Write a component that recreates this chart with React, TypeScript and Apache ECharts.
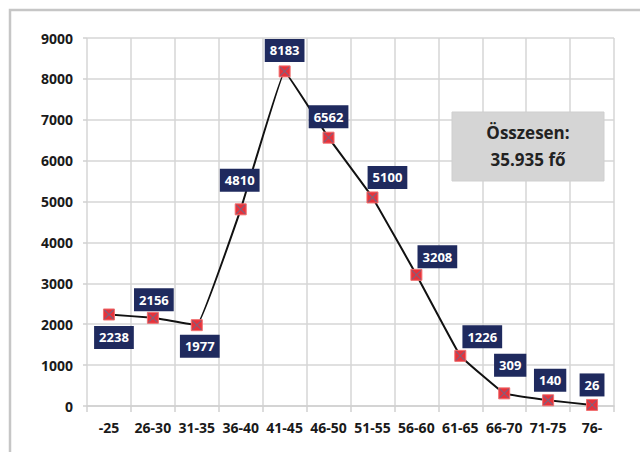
import React, { useEffect, useRef } from "react";
import * as echarts from "echarts";

const categories = ["-25", "26-30", "31-35", "36-40", "41-45", "46-50", "51-55", "56-60", "61-65", "66-70", "71-75", "76-"];
const values = [2238, 2156, 1977, 4810, 8183, 6562, 5100, 3208, 1226, 309, 140, 26];
const labelOffsets: [number, number][] = [
  [5, 23], [1, -18], [3, 21], [-1, -29], [0, -21], [0, -21],
  [15, -20], [21, -18], [22, -19], [6, -28], [2, -20], [0, -20],
];
const totalLines = ["Összesen:", "35.935 fő"];

export default function App() {
  const ref = useRef<HTMLDivElement>(null);
  useEffect(() => {
    if (!ref.current) return;
    const chart = echarts.init(ref.current, null, { renderer: "svg" });
    const font = "'Open Sans', 'Noto Sans', sans-serif";
    chart.setOption({
      animation: false,
      backgroundColor: "#ffffff",
      textStyle: { fontFamily: font },
      grid: { left: 87, right: 26, top: 38, bottom: 46 },
      xAxis: {
        type: "category",
        data: categories,
        boundaryGap: true,
        axisLine: { show: true, lineStyle: { color: "#d0d0d0", width: 1.5 } },
        axisTick: { show: true, length: 6, lineStyle: { color: "#d0d0d0", width: 1.5 }, interval: 0 },
        splitLine: { show: true, interval: 0, lineStyle: { color: "#d6d6d6", width: 1.5 } },
        axisLabel: { interval: 0, margin: 14, color: "#1a1a1a", fontWeight: "bold", fontSize: 14, fontFamily: font },
      },
      yAxis: {
        type: "value",
        min: 0,
        max: 9000,
        interval: 1000,
        axisLine: { show: false },
        axisTick: { show: true, length: 4, lineStyle: { color: "#d0d0d0", width: 1.5 } },
        splitLine: { show: true, lineStyle: { color: "#d6d6d6", width: 1.5 } },
        axisLabel: {
          margin: 14,
          color: "#1a1a1a",
          fontWeight: "bold",
          fontSize: 14,
          fontFamily: font,
          formatter: (v: number) => String(v),
        },
      },
      graphic: [
        {
          type: "rect",
          shape: { x: 10, y: 10, width: 660, height: 480 },
          style: { fill: "none", stroke: "#c6c6c6", lineWidth: 2.5 },
          silent: true,
          z: 100,
        },
        {
          type: "rect",
          shape: { x: 452, y: 112, width: 152, height: 69 },
          style: { fill: "#d5d5d5", stroke: "#cfcfcf", lineWidth: 1 },
          z: 50,
        },
        {
          type: "text",
          x: 528,
          y: 146,
          z: 51,
          style: {
            text: totalLines.join("\n"),
            fill: "#222222",
            font: "bold 17px 'Open Sans', sans-serif",
            lineHeight: 27,
            align: "center",
            verticalAlign: "middle",
          },
        },
      ],
      series: [
        {
          type: "line",
          data: values.map((v, i) => ({
            value: v,
            label: { offset: labelOffsets[i] },
          })),
          smooth: 0.06,
          lineStyle: { color: "#111111", width: 2 },
          symbol: "rect",
          symbolSize: 11,
          itemStyle: { color: "#e8323a", borderColor: "#f07070", borderWidth: 1 },
          z: 3,
          label: {
            show: true,
            position: "inside",
            color: "#ffffff",
            fontWeight: "bold",
            fontSize: 13,
            fontFamily: font,
            backgroundColor: "#1f2a5e",
            padding: [4, 5, 4, 5],
            lineHeight: 15,
          },
        },
        {
          type: "scatter",
          data: values,
          symbol: "path://M0,0L10,10M0,10L10,0",
          symbolSize: 9,
          silent: true,
          itemStyle: { color: "none", borderColor: "#6a6a8a", borderWidth: 1.2 },
          z: 4,
        },
      ],
    });
    return () => chart.dispose();
  }, []);
  return <div ref={ref} style={{ position: "fixed", left: 0, top: 0, width: 640, height: 452 }} />;
}
